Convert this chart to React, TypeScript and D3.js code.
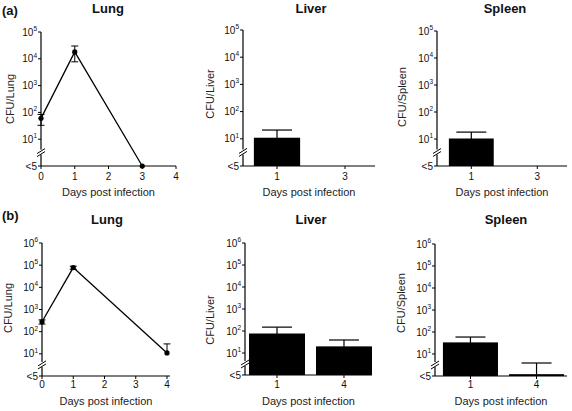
import React from "react";
import * as d3 from "d3";

// ---- data ----
const LOD = 1; // "<5" (below detection) plotted at the axis floor
const lungA_days = [0, 1, 3];
const lungA_mean = [60, 18000, LOD];
const lungA_lo = [33, 7700, null];
const lungA_hi = [84, 30000, null];

const lungB_days = [0, 1, 4];
const lungB_mean = [280, 78000, 11];
const lungB_lo = [220, 65000, null];
const lungB_hi = [340, 90000, 28];

const liverA_cats = ["1", "3"];
const liverA_mean = [10.5, null];
const liverA_hi = [21, null];

const spleenA_cats = ["1", "3"];
const spleenA_mean = [10, null];
const spleenA_hi = [18, null];

const liverB_cats = ["1", "4"];
const liverB_mean = [73, 19];
const liverB_hi = [150, 39];

const spleenB_cats = ["1", "4"];
const spleenB_mean = [32, 1.15];
const spleenB_hi = [59, 3.9];

const lineTicks = [0, 1, 2, 3, 4];

const FONT = "'Liberation Sans', Arial, sans-serif";

type YAxisCfg = { axisX: number; yTop: number; yBot: number; maxExp: number };

function makeY(c: YAxisCfg) {
  return d3.scaleLog().domain([1, Math.pow(10, c.maxExp)]).range([c.yBot, c.yTop]);
}

function YAxis({ c, label, labelX, labelY }: { c: YAxisCfg; label: string; labelX: number; labelY: number }) {
  const y = makeY(c);
  const exps = d3.range(1, c.maxExp + 1);
  const by = y(Math.pow(10, 0.5));
  return (
    <g>
      <line x1={c.axisX} x2={c.axisX} y1={c.yTop} y2={c.yBot} stroke="#000" strokeWidth={1.2} />
      {exps.map((e) => (
        <g key={e}>
          <line x1={c.axisX - 3} x2={c.axisX} y1={y(Math.pow(10, e))} y2={y(Math.pow(10, e))} stroke="#000" strokeWidth={1} />
          <text x={c.axisX - 4} y={y(Math.pow(10, e)) + 3.5} textAnchor="end" fontSize={10} fontFamily={FONT} fill="#111">
            10<tspan fontSize={6.5} dy={-4.5}>{e}</tspan>
          </text>
        </g>
      ))}
      <line x1={c.axisX - 3} x2={c.axisX} y1={y(1)} y2={y(1)} stroke="#000" strokeWidth={1} />
      <text x={c.axisX - 4} y={y(1) + 3.5} textAnchor="end" fontSize={10} fontFamily={FONT} fill="#111">&lt;5</text>
      {/* axis break */}
      <rect x={c.axisX - 2} y={by - 3} width={4} height={5} fill="#fff" />
      <line x1={c.axisX - 4} x2={c.axisX + 4} y1={by + 1} y2={by - 4} stroke="#000" strokeWidth={1} />
      <line x1={c.axisX - 4} x2={c.axisX + 4} y1={by + 4} y2={by - 1} stroke="#000" strokeWidth={1} />
      <text transform={`translate(${labelX},${labelY}) rotate(-90)`} textAnchor="middle" fontSize={11} fontFamily={FONT} fill="#222">
        {label}
      </text>
    </g>
  );
}

function Title({ x, y, text }: { x: number; y: number; text: string }) {
  return (
    <text x={x} y={y} textAnchor="middle" fontSize={13} fontWeight="bold" fontFamily={FONT} fill="#111">
      {text}
    </text>
  );
}

function XLabel({ x, y }: { x: number; y: number }) {
  return (
    <text x={x} y={y} textAnchor="middle" fontSize={11} fontFamily={FONT} fill="#222">
      Days post infection
    </text>
  );
}

function LinePanel(props: {
  c: YAxisCfg; xEnd: number; xRange: [number, number]; tickY: number;
  days: number[]; mean: number[]; lo: (number | null)[]; hi: (number | null)[];
  title: string; titleX: number; titleY: number; label: string; labelX: number; labelY: number; xlabY: number;
}) {
  const { c } = props;
  const y = makeY(c);
  const x = d3.scaleLinear().domain([0, 4]).range(props.xRange);
  const pts = props.days.map((d, i) => [x(d), y(props.mean[i])] as [number, number]);
  const line = d3.line();
  return (
    <g>
      <Title x={props.titleX} y={props.titleY} text={props.title} />
      <YAxis c={c} label={props.label} labelX={props.labelX} labelY={props.labelY} />
      <line x1={c.axisX} x2={props.xEnd} y1={c.yBot} y2={c.yBot} stroke="#000" strokeWidth={1.2} />
      {lineTicks.map((t) => (
        <g key={t}>
          <line x1={x(t)} x2={x(t)} y1={c.yBot} y2={c.yBot + 3} stroke="#000" />
          <text x={x(t)} y={props.tickY} textAnchor="middle" fontSize={10} fontFamily={FONT} fill="#111">{t}</text>
        </g>
      ))}
      <XLabel x={(c.axisX + props.xEnd) / 2} y={props.xlabY} />
      <path d={line(pts) || ""} fill="none" stroke="#000" strokeWidth={1.3} />
      {props.days.map((d, i) => {
        const cx = x(d);
        const top = props.hi[i] != null ? y(props.hi[i] as number) : y(props.mean[i]);
        const bot = props.lo[i] != null ? y(props.lo[i] as number) : y(props.mean[i]);
        return (
          <g key={i}>
            {(props.hi[i] != null || props.lo[i] != null) && (
              <line x1={cx} x2={cx} y1={top} y2={bot} stroke="#000" strokeWidth={1} />
            )}
            {props.hi[i] != null && <line x1={cx - 3.5} x2={cx + 3.5} y1={top} y2={top} stroke="#000" />}
            {props.lo[i] != null && <line x1={cx - 3.5} x2={cx + 3.5} y1={bot} y2={bot} stroke="#000" />}
            <circle cx={cx} cy={y(props.mean[i])} r={2.6} fill="#000" />
          </g>
        );
      })}
    </g>
  );
}

function BarPanel(props: {
  c: YAxisCfg; xEnd: number; bandRange: [number, number]; pi: number; po: number; tickY: number;
  cats: string[]; mean: (number | null)[]; hi: (number | null)[];
  title: string; titleX: number; titleY: number; label: string; labelX: number; labelY: number; xlabY: number;
}) {
  const { c } = props;
  const y = makeY(c);
  const x = d3.scaleBand<string>().domain(props.cats).range(props.bandRange).paddingInner(props.pi).paddingOuter(props.po);
  const bw = x.bandwidth();
  return (
    <g>
      <Title x={props.titleX} y={props.titleY} text={props.title} />
      {props.cats.map((cat, i) => {
        const m = props.mean[i];
        if (m == null) return null;
        const x0 = x(cat) as number;
        const cx = x0 + bw / 2;
        const h = props.hi[i];
        return (
          <g key={cat}>
            {h != null && (
              <g>
                <line x1={cx} x2={cx} y1={y(h)} y2={y(m)} stroke="#000" strokeWidth={1.2} />
                <line x1={cx - 15} x2={cx + 15} y1={y(h)} y2={y(h)} stroke="#000" strokeWidth={1.2} />
              </g>
            )}
            <rect x={x0} y={y(m) - 0.5} width={bw} height={Math.max(1.5, y(1) - y(m) + 0.5)} fill="#000" />
          </g>
        );
      })}
      <YAxis c={c} label={props.label} labelX={props.labelX} labelY={props.labelY} />
      <line x1={c.axisX} x2={props.xEnd} y1={c.yBot} y2={c.yBot} stroke="#000" strokeWidth={1.2} />
      {props.cats.map((cat) => {
        const cx = (x(cat) as number) + bw / 2;
        return (
          <g key={cat}>
            <line x1={cx} x2={cx} y1={c.yBot} y2={c.yBot + 3} stroke="#000" />
            <text x={cx} y={props.tickY} textAnchor="middle" fontSize={10} fontFamily={FONT} fill="#111">{cat}</text>
          </g>
        );
      })}
      <XLabel x={(c.axisX + props.xEnd) / 2} y={props.xlabY} />
    </g>
  );
}

export default function App() {
  return (
    <svg width={572} height={411} style={{ position: "absolute", left: 0, top: 0, background: "#fff" }}>
      <rect width={572} height={411} fill="#fff" />
      <text x={2} y={15} fontSize={13} fontWeight="bold" fontFamily={FONT} fill="#111">(a)</text>
      <text x={2} y={220} fontSize={13} fontWeight="bold" fontFamily={FONT} fill="#111">(b)</text>

      <LinePanel
        c={{ axisX: 41, yTop: 32, yBot: 166, maxExp: 5 }} xEnd={176} xRange={[41, 176]} tickY={180}
        days={lungA_days} mean={lungA_mean} lo={lungA_lo} hi={lungA_hi}
        title="Lung" titleX={108} titleY={13} label="CFU/Lung" labelX={14} labelY={99} xlabY={196}
      />
      <BarPanel
        c={{ axisX: 243, yTop: 30, yBot: 166, maxExp: 5 }} xEnd={375} bandRange={[243, 379]} pi={0.32} po={0.16} tickY={180}
        cats={liverA_cats} mean={liverA_mean} hi={liverA_hi}
        title="Liver" titleX={311} titleY={13} label="CFU/Liver" labelX={214} labelY={94} xlabY={196}
      />
      <BarPanel
        c={{ axisX: 437, yTop: 31, yBot: 166, maxExp: 5 }} xEnd={567} bandRange={[437, 571.6]} pi={0.32} po={0.18} tickY={180}
        cats={spleenA_cats} mean={spleenA_mean} hi={spleenA_hi}
        title="Spleen" titleX={505} titleY={13} label="CFU/Spleen" labelX={406} labelY={97} xlabY={196}
      />

      <LinePanel
        c={{ axisX: 42, yTop: 243, yBot: 376, maxExp: 6 }} xEnd={170} xRange={[42, 167]} tickY={388}
        days={lungB_days} mean={lungB_mean} lo={lungB_lo} hi={lungB_hi}
        title="Lung" titleX={107} titleY={224} label="CFU/Lung" labelX={12} labelY={308} xlabY={405}
      />
      <BarPanel
        c={{ axisX: 245, yTop: 243, yBot: 375, maxExp: 6 }} xEnd={372} bandRange={[245, 376]} pi={0.164} po={0.06} tickY={388}
        cats={liverB_cats} mean={liverB_mean} hi={liverB_hi}
        title="Liver" titleX={311} titleY={224} label="CFU/Liver" labelX={214} labelY={320} xlabY={405}
      />
      <BarPanel
        c={{ axisX: 435, yTop: 244, yBot: 376, maxExp: 6 }} xEnd={567} bandRange={[435, 572]} pi={0.167} po={0.12} tickY={388}
        cats={spleenB_cats} mean={spleenB_mean} hi={spleenB_hi}
        title="Spleen" titleX={506} titleY={224} label="CFU/Spleen" labelX={405} labelY={303} xlabY={405}
      />
    </svg>
  );
}
